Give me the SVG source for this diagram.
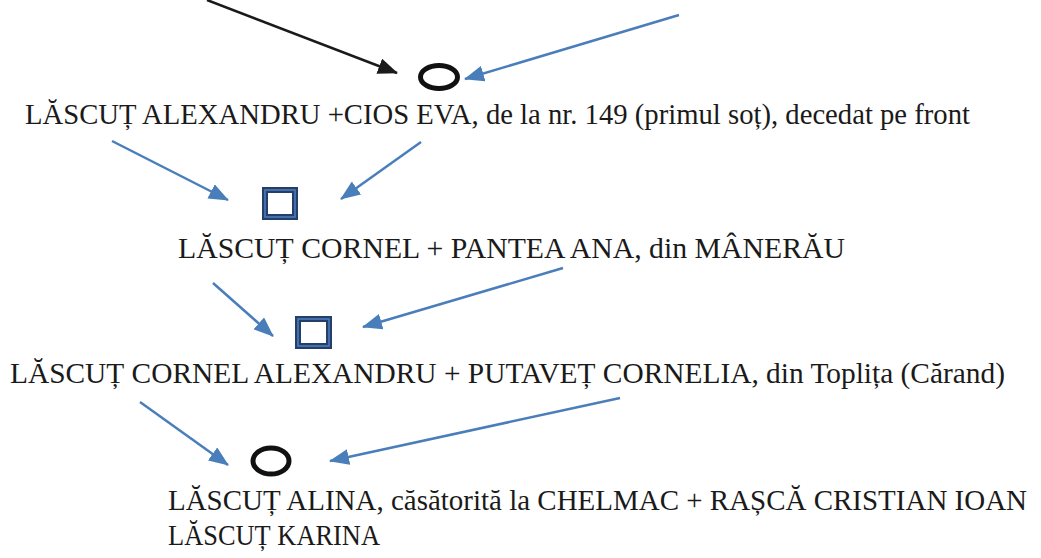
<svg xmlns="http://www.w3.org/2000/svg" width="1041" height="558" viewBox="0 0 1041 558">
<style>
.t{font-family:"Liberation Serif","Times New Roman",serif;font-size:28.5px;fill:#1a1a1a}
.bl{stroke:#4a7ebb;stroke-width:2.5;fill:none}
.bk{stroke:#1a1a1a;stroke-width:2.5;fill:none}
.circ{fill:none;stroke:#111;stroke-width:5}
.sqo{fill:#fff;stroke:#24406a;stroke-width:6}
.sqi{fill:none;stroke:#4f7fbf;stroke-width:1.5}
</style>
<defs>
<marker id="ab" markerUnits="userSpaceOnUse" markerWidth="20" markerHeight="16" refX="19" refY="8" orient="auto"><path d="M0,0 L20,8 L0,16 Z" fill="#4a7ebb"/></marker>
<marker id="ak" markerUnits="userSpaceOnUse" markerWidth="20" markerHeight="16" refX="19" refY="8" orient="auto"><path d="M0,0 L20,8 L0,16 Z" fill="#1a1a1a"/></marker>
</defs>
<g id="connectors">
<line class="bk" x1="207" y1="0" x2="397" y2="73" marker-end="url(#ak)"/>
<line class="bl" x1="679" y1="15" x2="465" y2="79" marker-end="url(#ab)"/>
<line class="bl" x1="112" y1="141" x2="228" y2="200" marker-end="url(#ab)"/>
<line class="bl" x1="421" y1="142" x2="341" y2="199" marker-end="url(#ab)"/>
<line class="bl" x1="213" y1="283" x2="273" y2="336" marker-end="url(#ab)"/>
<line class="bl" x1="563" y1="268" x2="363" y2="327" marker-end="url(#ab)"/>
<line class="bl" x1="140" y1="402" x2="228" y2="465" marker-end="url(#ab)"/>
<line class="bl" x1="620" y1="398" x2="330" y2="461" marker-end="url(#ab)"/>
</g>
<g id="n1">
<ellipse class="circ" cx="439" cy="77" rx="18.5" ry="11.5"/>
<text class="t" x="25" y="124" textLength="945" lengthAdjust="spacingAndGlyphs">LĂSCUȚ ALEXANDRU +CIOS EVA, de la nr. 149 (primul soț), decedat pe front</text>
</g>
<g id="n2">
<rect class="sqo" x="265" y="190" width="30" height="27"/>
<rect class="sqi" x="265" y="190" width="30" height="27"/>
<text class="t" x="178" y="258" textLength="667" lengthAdjust="spacingAndGlyphs">LĂSCUȚ CORNEL + PANTEA ANA, din MÂNERĂU</text>
</g>
<g id="n3">
<rect class="sqo" x="298" y="319" width="31" height="27"/>
<rect class="sqi" x="298" y="319" width="31" height="27"/>
<text class="t" x="10" y="383" textLength="995" lengthAdjust="spacingAndGlyphs">LĂSCUȚ CORNEL ALEXANDRU + PUTAVEȚ CORNELIA, din Toplița (Cărand)</text>
</g>
<g id="n4">
<ellipse class="circ" cx="271" cy="461" rx="18" ry="13"/>
<text class="t" x="168" y="510" textLength="859" lengthAdjust="spacingAndGlyphs">LĂSCUȚ ALINA, căsătorită la CHELMAC + RAȘCĂ CRISTIAN IOAN</text>
<text class="t" x="168" y="545" textLength="212" lengthAdjust="spacingAndGlyphs">LĂSCUȚ KARINA</text>
</g>
</svg>
